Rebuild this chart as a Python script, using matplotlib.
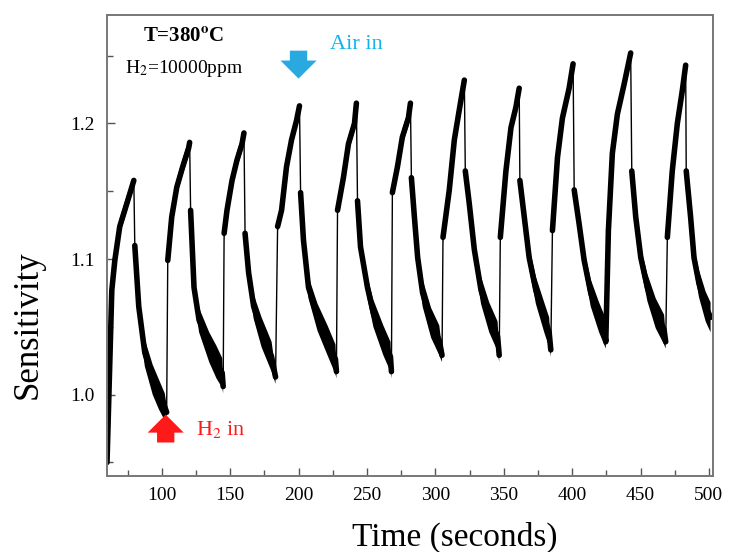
import numpy as np
import matplotlib
matplotlib.use('Agg')
import matplotlib.pyplot as plt
from matplotlib.ticker import MultipleLocator

plt.rcParams['font.family'] = ['Liberation Serif', 'DejaVu Serif']
plt.rcParams['mathtext.fontset'] = 'stix'

# sensor response, cycle by cycle (rise -> peak -> decay -> min)
time = [
    60.0, 63.5, 65.7, 69.3, 74.5, 79.6, 80.3, 83.2, 87.6, 93.4, 98.0, 102.2, 103.6,
    104.4, 107.3, 111.0, 115.3, 119.7, 120.4, 121.1, 123.6, 127.3, 134.7, 140.0, 144.2, 144.9,
    145.6, 147.7, 151.4, 155.0, 158.7, 160.1, 160.9, 163.5, 167.2, 173.0, 180.3, 183.2,
    184.7, 187.6, 191.2, 194.9, 198.5, 200.7, 201.5, 203.6, 207.3, 213.9, 221.2, 227.0, 227.7,
    228.5, 232.8, 236.5, 240.9, 242.3, 243.1, 245.3, 250.4, 254.7, 262.0, 267.2, 267.9,
    268.6, 272.3, 275.9, 280.3, 281.8, 282.5, 284.7, 287.1, 290.7, 296.9, 302.9, 304.9,
    305.6, 310.2, 313.9, 317.5, 321.2, 321.9, 324.8, 328.5, 333.4, 339.4, 345.5, 346.7,
    347.5, 351.6, 355.3, 358.9, 361.3, 361.8, 365.0, 368.6, 373.5, 379.6, 383.2, 384.4,
    385.6, 389.3, 392.9, 397.8, 400.7, 401.5, 405.1, 408.8, 413.6, 419.7, 423.4, 424.6,
    426.5, 429.4, 433.1, 438.0, 442.8, 443.6, 446.5, 450.2, 455.0, 461.1, 467.2, 468.4,
    469.6, 473.2, 476.9, 480.5, 483.0, 483.4, 486.6, 489.1, 492.7, 497.6, 501.2,
]
sensitivity = [
    0.950, 1.077, 1.099, 1.124, 1.141, 1.158, 1.110, 1.065, 1.031, 1.011, 1.000, 0.991, 0.987,
    1.099, 1.131, 1.153, 1.168, 1.182, 1.186, 1.136, 1.079, 1.055, 1.035, 1.024, 1.016, 1.006,
    1.119, 1.136, 1.158, 1.173, 1.185, 1.193, 1.119, 1.090, 1.065, 1.046, 1.028, 1.013,
    1.124, 1.136, 1.168, 1.188, 1.202, 1.213, 1.149, 1.114, 1.079, 1.057, 1.040, 1.026, 1.017,
    1.136, 1.160, 1.185, 1.200, 1.215, 1.143, 1.109, 1.079, 1.060, 1.040, 1.028, 1.017,
    1.149, 1.168, 1.190, 1.204, 1.215, 1.160, 1.131, 1.101, 1.075, 1.053, 1.040, 1.029,
    1.116, 1.151, 1.188, 1.210, 1.232, 1.165, 1.141, 1.107, 1.077, 1.057, 1.043, 1.029,
    1.116, 1.165, 1.197, 1.212, 1.226, 1.158, 1.131, 1.101, 1.077, 1.057, 1.046, 1.033,
    1.121, 1.175, 1.204, 1.226, 1.244, 1.151, 1.126, 1.099, 1.075, 1.057, 1.048, 1.039,
    1.121, 1.178, 1.207, 1.229, 1.252, 1.165, 1.131, 1.101, 1.079, 1.060, 1.048, 1.039,
    1.116, 1.165, 1.200, 1.224, 1.243, 1.165, 1.131, 1.101, 1.082, 1.065, 1.057,
]
# half height of the noisy band around each point
noise = [
    0.003, 0.004, 0.005, 0.006, 0.006, 0.002, 0.003, 0.007, 0.010, 0.011, 0.011, 0.010, 0.005,
    0.004, 0.006, 0.006, 0.006, 0.006, 0.002, 0.003, 0.007, 0.009, 0.011, 0.012, 0.011, 0.005,
    0.004, 0.006, 0.006, 0.006, 0.006, 0.002, 0.003, 0.007, 0.009, 0.011, 0.011, 0.005,
    0.004, 0.006, 0.006, 0.006, 0.006, 0.002, 0.003, 0.006, 0.008, 0.010, 0.011, 0.011, 0.005,
    0.004, 0.006, 0.006, 0.006, 0.002, 0.003, 0.006, 0.008, 0.010, 0.011, 0.011, 0.005,
    0.004, 0.006, 0.006, 0.006, 0.002, 0.003, 0.006, 0.008, 0.010, 0.011, 0.011, 0.005,
    0.004, 0.006, 0.006, 0.006, 0.002, 0.003, 0.006, 0.008, 0.010, 0.011, 0.011, 0.005,
    0.004, 0.006, 0.006, 0.006, 0.002, 0.003, 0.006, 0.008, 0.010, 0.011, 0.011, 0.005,
    0.004, 0.006, 0.006, 0.006, 0.002, 0.003, 0.006, 0.008, 0.010, 0.011, 0.011, 0.005,
    0.004, 0.006, 0.006, 0.006, 0.002, 0.003, 0.006, 0.008, 0.010, 0.011, 0.011, 0.005,
    0.004, 0.006, 0.006, 0.006, 0.002, 0.003, 0.006, 0.008, 0.010, 0.011, 0.011,
]
x_ticks = [100, 150, 200, 250, 300, 350, 400, 450, 500]
y_ticks = [1.0, 1.1, 1.2]

t = np.array(time)
s = np.array(sensitivity)
w = np.array(noise)

# gas switching shows up as near-vertical jumps: keep those thin, break the band there
jump = np.abs(np.diff(s)) / np.diff(t) > 0.05
cut = np.where(jump)[0] + 1
tb = np.insert(t, cut, np.nan)
sb = np.insert(s, cut, np.nan)
wb = np.insert(w, cut, np.nan)

fig = plt.figure(figsize=(7.29, 5.52), dpi=100)
ax = fig.add_axes([0.1468, 0.1377, 0.8313, 0.8351])

ax.plot(t, s, color='black', lw=1.0)
ax.fill_between(tb, sb - wb, sb + wb, color='black', lw=0)
ax.plot(tb, sb, color='black', lw=4.0, solid_capstyle='round')

ax.set_xlim(60, 503)
ax.set_ylim(0.94, 1.28)
ax.set_xticks(x_ticks)
ax.set_yticks(y_ticks)
ax.set_yticklabels(['%.1f' % v for v in y_ticks])
ax.xaxis.set_minor_locator(MultipleLocator(25))
ax.yaxis.set_minor_locator(MultipleLocator(0.05))
ax.tick_params(which='both', direction='in', color='#555555', width=1.0,
               labelsize=14, top=False, right=False)
ax.tick_params(which='major', length=6)
ax.tick_params(which='minor', length=4)
ax.tick_params(axis='x', pad=8)
ax.tick_params(axis='y', pad=9)
for sp in ax.spines.values():
    sp.set_color('#777777')
    sp.set_linewidth(1.4)

fig.text(455 / 729, 1 - 537 / 552, 'Time (seconds)', fontsize=24, ha='center', va='center')
fig.text(28 / 729, 1 - 325 / 552, 'Sensitivity', fontsize=25, rotation=90,
         ha='center', va='center')

ax.text(0.059, 0.952, r'T=380$^{\mathbf{o}}$C', transform=ax.transAxes, fontsize=15,
        fontweight='bold', ha='left', va='center')
ax.text(0.030, 0.885, r'H$_2$=10000ppm', transform=ax.transAxes, fontsize=14,
        ha='left', va='center')
ax.text(0.368, 0.937, 'Air in', transform=ax.transAxes, fontsize=16,
        color='#10b4ea', ha='left', va='center')
ax.text(0.147, 0.100, r'H$_2$ in', transform=ax.transAxes, fontsize=16,
        color='#ff1a1a', ha='left', va='center')

arrow_style = 'simple,head_length=0.5,head_width=1.0,tail_width=0.48'
ax.annotate('', xy=(200, 1.2331), xytext=(200, 1.2537),
            arrowprops=dict(arrowstyle=arrow_style, mutation_scale=26,
                            fc='#2aa8e0', ec='none', shrinkA=0, shrinkB=0))
ax.annotate('', xy=(102.9, 0.9853), xytext=(102.9, 0.9647),
            arrowprops=dict(arrowstyle=arrow_style, mutation_scale=26,
                            fc='#ff1a1a', ec='none', shrinkA=0, shrinkB=0))

fig.savefig('out.png', dpi=100)
